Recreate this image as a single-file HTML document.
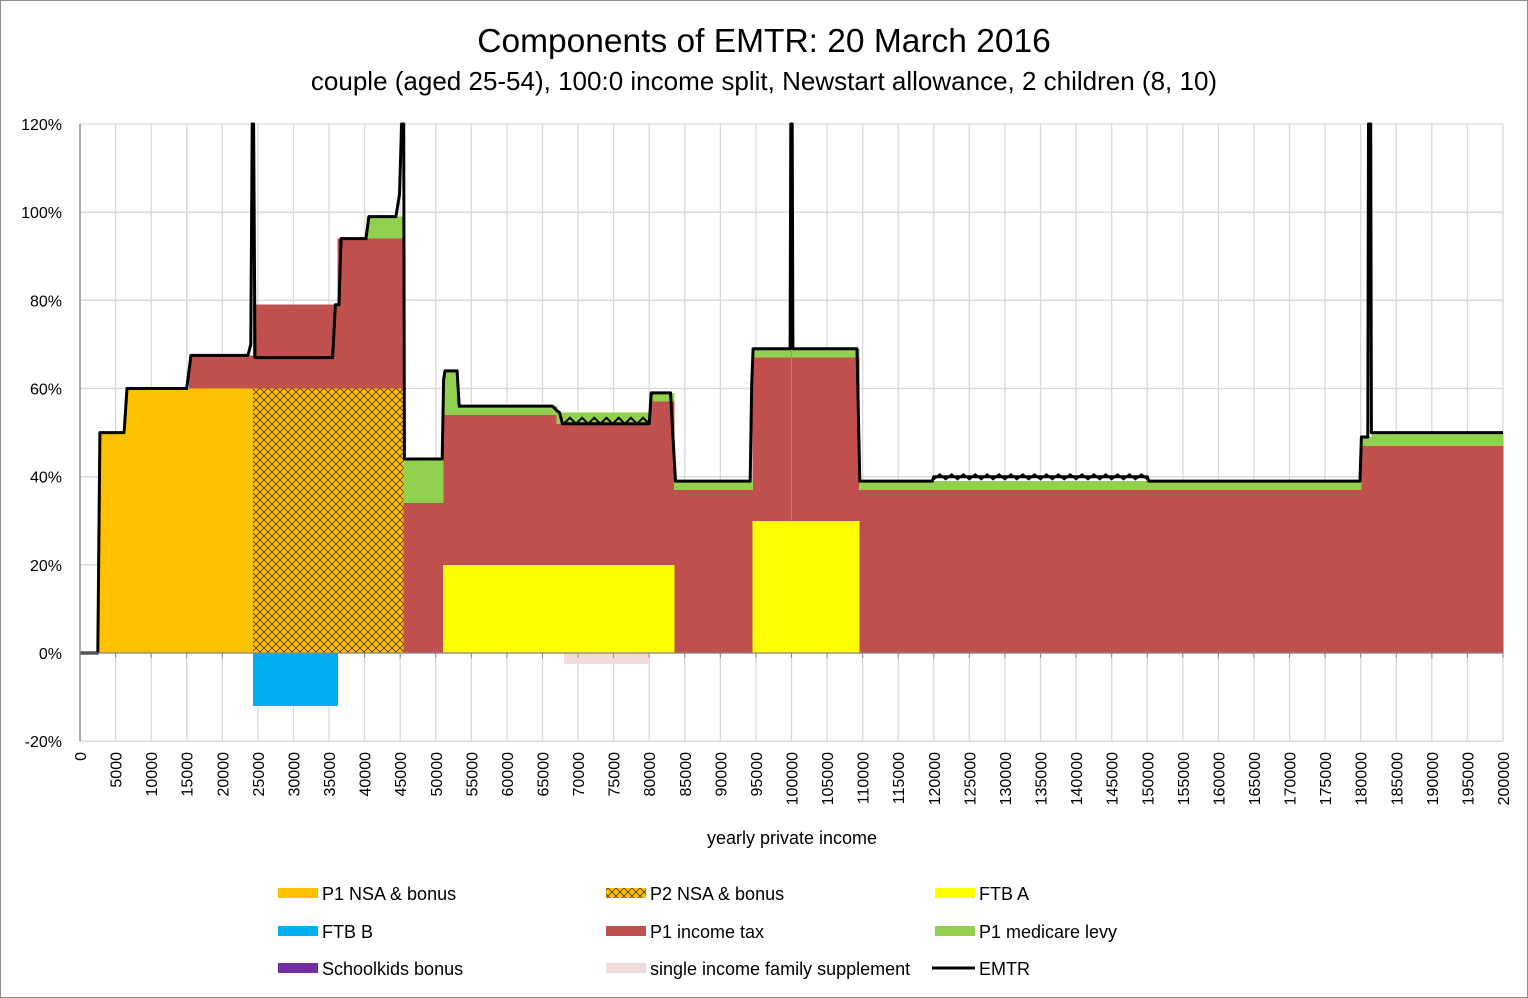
<!DOCTYPE html>
<html><head><meta charset="utf-8"><style>
body{margin:0;background:#fff;}
svg{display:block;font-family:"Liberation Sans",sans-serif;}
</style></head><body>
<svg id="chart" width="1528" height="998" viewBox="0 0 1528 998">
<defs>
<pattern id="hatch" width="8" height="8" patternUnits="userSpaceOnUse">
<rect width="8" height="8" fill="#ffc000"/>
<path d="M0,0L8,8M8,0L0,8" stroke="#4a3500" stroke-width="0.8"/>
</pattern>
</defs>
<rect x="0.5" y="0.5" width="1527" height="997" fill="#fff" stroke="#8c8c8c"/>
<text x="764" y="52" text-anchor="middle" font-size="33.5">Components of EMTR: 20 March 2016</text>
<text x="764" y="90" text-anchor="middle" font-size="26">couple (aged 25-54), 100:0 income split, Newstart allowance, 2 children (8, 10)</text>
<g id="grid"></g>
<g id="areas" shape-rendering="crispEdges"></g>
<g id="lines"></g>
<g id="axes"></g>
<text x="792" y="844" text-anchor="middle" font-size="18">yearly private income</text>
<g id="legend"></g>
</svg>
<script>
// ---- data ----
const xTicks=[0,5000,10000,15000,20000,25000,30000,35000,40000,45000,50000,55000,60000,65000,70000,75000,80000,85000,90000,95000,100000,105000,110000,115000,120000,125000,130000,135000,140000,145000,150000,155000,160000,165000,170000,175000,180000,185000,190000,195000,200000];
const yTicks=[-20,0,20,40,60,80,100,120];
// P1 NSA & bonus bands
const nsa1Start=[2600,6500];
const nsa1End=[6500,24300];
const nsa1Lo=[0,0];
const nsa1Hi=[50,60];
// P2 NSA & bonus
const nsa2Start=[24300];
const nsa2End=[45500];
const nsa2Lo=[0];
const nsa2Hi=[60];
// P1 income tax
const taxStart=[15300,24300,36200,45500,51000,67000,68000,80000,83500,94500,109500,180000];
const taxEnd=[24300,36200,45500,51000,67000,68000,80000,83500,94500,109500,180000,200000];
const taxLo=[60,60,60,0,0,0,0,0,0,0,0,0];
const taxHi=[67.5,79,94,34,54,53,52,57,37,67,37,47];
// P1 medicare levy
const medStart=[40300,45500,51000,53000,67000,80000,83500,94500,109500,180000,181500];
const medEnd=[45500,51000,53000,67000,80000,83500,94500,109500,180000,181500,200000];
const medLo=[94,34,54,54,52,57,37,67,37,47,47];
const medHi=[99,44,64,56,54.5,59,39,69,39,49,50];
// FTB A
const ftbaStart=[51000,94500];
const ftbaEnd=[83500,109500];
const ftbaHi=[20,30];
// FTB B
const ftbbStart=[24300];
const ftbbEnd=[36200];
const ftbbLo=[-12];
// single income family supplement
const sifsStart=[68000];
const sifsEnd=[80000];
const sifsLo=[-2.5];
// EMTR line
const emtrX=[0,2500,2800,6200,6600,15000,15600,23600,24000,24200,24400,24600,35500,35900,36400,36700,40200,40600,44400,44900,45200,45500,45600,50900,51100,51300,53000,53300,66400,67000,67400,67800,80000,80300,83000,83700,94200,94400,94600,99800,99900,100100,100200,109200,109600,119800,120000,150000,150200,179900,180100,181000,181100,181400,181500,200000];
const emtrY=[0,0,50,50,60,60,67.5,67.5,70,125,125,67,67,79,79,94,94,99,99,104,125,125,44,44,62,64,64,56,56,55,54.5,52,52,59,59,39,39,61,69,69,125,125,69,69,39,39,40,40,39,39,49,49,125,125,50,50];
// ---- scales ----
const X0=80,X1=1503,Y0=653;
const xs=v=>X0+(v/200000)*(X1-X0);
const ys=p=>Y0-p*(653-124)/120;
const NS="http://www.w3.org/2000/svg";
function mk(tag,attrs,parent){const e=document.createElementNS(NS,tag);for(const k in attrs)e.setAttribute(k,attrs[k]);parent.appendChild(e);return e;}
const grid=document.getElementById('grid'),areas=document.getElementById('areas'),lines=document.getElementById('lines'),axes=document.getElementById('axes'),legend=document.getElementById('legend');
mk('rect',{x:X0,y:124,width:X1-X0,height:741-124,fill:'#fff'},grid);
yTicks.forEach(t=>{
 const l=mk('line',{x1:X0,x2:X1,y1:ys(t),y2:ys(t),stroke:'#d9d9d9','stroke-width':1.3},grid);
 
 
 const tx=mk('text',{x:62,y:ys(t)+6,'text-anchor':'end','font-size':16},axes);
 tx.textContent=t+'%';
 
 
});
xTicks.forEach(t=>{
 const l=mk('line',{x1:xs(t),x2:xs(t),y1:124,y2:741,stroke:'#d9d9d9','stroke-width':1.3},grid);
 
 
 const x=xs(t);
 const tx=mk('text',{x:0,y:0,'text-anchor':'end','font-size':16,transform:`translate(${x+6},${752}) rotate(-90)`},axes);
 tx.textContent=String(t);
 
 
});
function bands(st,en,lo,hi,fill,name){
 st.forEach((s,i)=>{
  const a=Math.min(lo[i],hi[i]),b=Math.max(lo[i],hi[i]);
  const r=mk('rect',{x:xs(s),y:ys(b),width:xs(en[i])-xs(s)+0.6,height:ys(a)-ys(b),fill:fill},areas);
  
  
 });
}
bands(nsa1Start,nsa1End,nsa1Lo,nsa1Hi,'#ffc000','p1-nsa-area');
bands(nsa2Start,nsa2End,nsa2Lo,nsa2Hi,'url(#hatch)','p2-nsa-area');
bands(taxStart,taxEnd,taxLo,taxHi,'#c0504d','p1-income-tax-area');
bands(medStart,medEnd,medLo,medHi,'#92d050','p1-medicare-area');
bands(ftbaStart,ftbaEnd,ftbaStart.map(()=>0),ftbaHi,'#ffff00','ftb-a-area');
bands(ftbbStart,ftbbEnd,ftbbLo,ftbbStart.map(()=>0),'#00b0f0','ftb-b-area');
bands(sifsStart,sifsEnd,sifsLo,sifsStart.map(()=>0),'#f2dcdb','sifs-area');
// axes lines
mk('line',{x1:X0,x2:X0,y1:124,y2:741,stroke:'#868686','stroke-width':1.3},axes);
mk('line',{x1:X0,x2:X1,y1:Y0,y2:Y0,stroke:'#868686','stroke-width':1.3},axes);
xTicks.forEach(t=>mk('line',{x1:xs(t),x2:xs(t),y1:Y0,y2:Y0+5,stroke:'#868686'},axes));
// thin blue line at 100000
mk('line',{x1:xs(100000),x2:xs(100000),y1:ys(69),y2:ys(30),stroke:'#4bacc6','stroke-width':1},lines);
// EMTR
let d='';
emtrX.forEach((x,i)=>{d+=(i?'L':'M')+xs(x).toFixed(1)+','+Math.max(ys(emtrY[i]),124).toFixed(1);});
const p=mk('path',{d:d,fill:'none',stroke:'#000','stroke-width':3,'stroke-linejoin':'round'},lines);


// zigzag decoration on flat segments
function zig(a,b,lvl,amp){let z='M'+xs(a)+','+ys(lvl);const n=Math.round((xs(b)-xs(a))/6);for(let i=1;i<=n;i++){const x=xs(a)+i*(xs(b)-xs(a))/n;const y=i%2?ys(lvl)-amp:ys(lvl);z+='L'+x.toFixed(1)+','+y.toFixed(1);}mk('path',{d:z,fill:'none',stroke:'#000','stroke-width':2},lines);}
zig(68000,80000,52,6);zig(120000,150000,39.4,5);
// legend
const items=[['P1 NSA & bonus','#ffc000',278,893],['P2 NSA & bonus','url(#hatch)',606,893],['FTB A','#ffff00',935,893],['FTB B','#00b0f0',278,931],['P1 income tax','#c0504d',606,931],['P1 medicare levy','#92d050',935,931],['Schoolkids bonus','#7030a0',278,968],['single income family supplement','#f2dcdb',606,968]];
items.forEach(it=>{
 const g=mk('g',{},legend);
 
 
 mk('rect',{x:it[2],y:it[3]-5,width:40,height:10,fill:it[1]},g);
 const t=mk('text',{x:it[2]+44,y:it[3]+7,'font-size':18},g);t.textContent=it[0];
});
const ge=mk('g',{},legend);


mk('line',{x1:932,x2:975,y1:968,y2:968,stroke:'#000','stroke-width':3},ge);
const te=mk('text',{x:979,y:975,'font-size':18},ge);te.textContent='EMTR';
</script>
</body></html>
